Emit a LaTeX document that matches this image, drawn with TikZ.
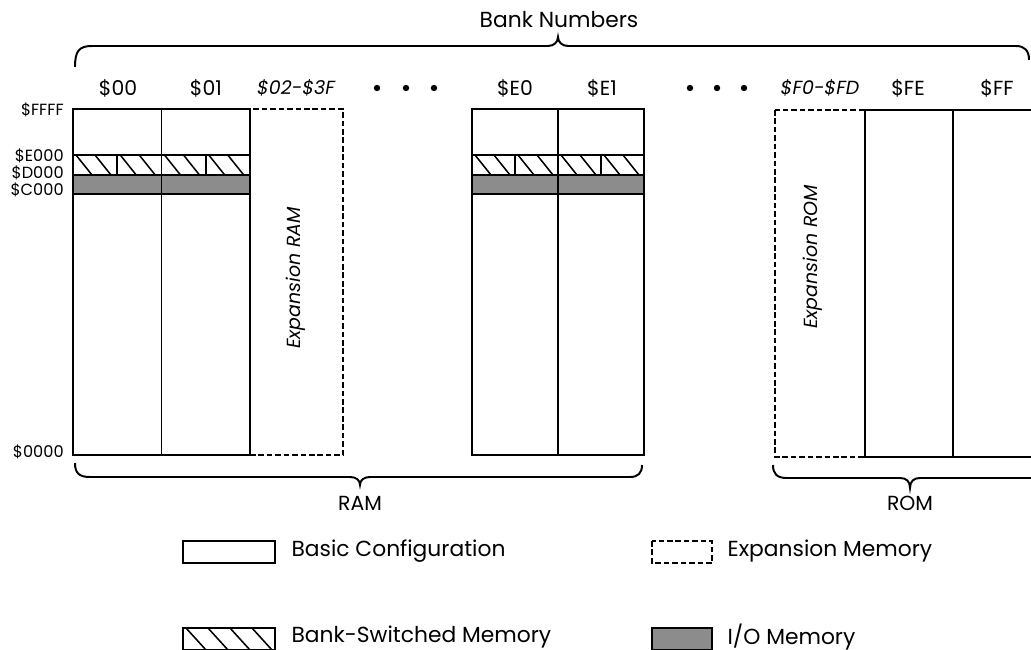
\documentclass[tikz,border=0pt]{standalone}
\usepackage{fontspec}
\setmainfont{Poppins}
\usetikzlibrary{positioning, calc}

\tikzset{
  bankbox/.style={draw, line width=1.3pt},
  expbox/.style={draw, line width=1.3pt, dash pattern=on 4pt off 2pt},
  brace/.style={draw, line width=1.4pt},
  banklab/.style={font=\fontsize{14.5}{16}\selectfont},
  explab/.style={font=\itshape\fontsize{13.5}{15}\selectfont},
  addrlab/.style={anchor=east, inner sep=1pt, font=\fontsize{11.5}{12}\selectfont},
  legtext/.style={anchor=west, font=\fontsize{15.5}{17}\selectfont},
  iofill/.style={fill=black!45},
}

\begin{document}
\begin{tikzpicture}[x=0.025cm, y=-0.025cm, line width=1.3pt]
    \useasboundingbox (0,0) rectangle (1031,650);

    % address labels
    \node[addrlab] (aFFFF) at (66,110) {\$FFFF};
    \node[addrlab] (aE000) at (66,156) {\$E000};
    \node[addrlab] (aD000) at (66,173) {\$D000};
    \node[addrlab] (aC000) at (66,190) {\$C000};
    \node[addrlab] (a0000) at (66,452) {\$0000};

    % bank numbers
    \node[banklab] (b00) at (118,88) {\$00};
    \node[banklab] (b01) at (206,88) {\$01};
    \node[explab]  (b02) at (296,88) {\$02-\$3F};
    \node[banklab] (bE0) at (515,88) {\$E0};
    \node[banklab] (bE1) at (602,88) {\$E1};
    \node[explab]  (bF0) at (820,88) {\$F0-\$FD};
    \node[banklab] (bFE) at (908,88) {\$FE};
    \node[banklab] (bFF) at (997,88) {\$FF};
    \foreach \x in {377,406,434,690,717,744}
        \fill (\x,88) circle (3.2);

    % expansion banks
    \draw[expbox] (250,109) rectangle (343,455);
    \draw[expbox] (775,110) rectangle (865,457);
    \node[explab, rotate=90] (expram) at (296,278) {Expansion RAM};
    \node[explab, rotate=90] (exprom) at (813,257) {Expansion ROM};

    % RAM banks $00-$01 and $E0-$E1
    \foreach \xa/\xb in {73/250, 472/644} {
        \pgfmathsetmacro{\cw}{(\xb-\xa)/4}
        \fill[iofill] (\xa,175) rectangle (\xb,194);
        \begin{scope}
            \clip (\xa,155) rectangle (\xb,175);
            \foreach \i in {0,...,3} {
                \draw[line width=1.1pt] ({\xa+\i*\cw},155) -- ({\xa+\i*\cw},175);
                \foreach \d in {3,22}
                    \draw[line width=1.1pt] ({\xa+\i*\cw+\d},155) -- ({\xa+\i*\cw+\d+16},175);
            }
        \end{scope}
        \draw[bankbox] (\xa,109) rectangle (\xb,455);
        \draw[bankbox] ({(\xa+\xb)/2},109) -- ({(\xa+\xb)/2},455);
        \draw[bankbox] (\xa,155) -- (\xb,155);
        \draw[bankbox] (\xa,175) -- (\xb,175);
        \draw[bankbox] (\xa,194) -- (\xb,194);
    }

    % ROM banks $FE-$FF
    \draw[bankbox] (1032,110) -- (865,110) -- (865,457) -- (1032,457);
    \draw[bankbox] (953,110) -- (953,457);

    % braces
    \draw[brace] (75,67) .. controls (75,51) and (79,46) .. (92,46) -- (548,46)
        .. controls (554,46) and (558,42) .. (558,37) .. controls (558,42) and (562,46) .. (568,46)
        -- (1016,46) .. controls (1025,46) and (1029,51) .. (1029,60);
    \node[font=\fontsize{15.5}{17}\selectfont] (banknum) at (559,20) {Bank Numbers};

    \draw[brace] (75,463) .. controls (75,473) and (79,477) .. (90,477) -- (350,477)
        .. controls (356,477) and (360,480) .. (360,485) .. controls (360,480) and (364,477) .. (370,477)
        -- (630,477) .. controls (638,477) and (642,473) .. (642,465);
    \node[banklab] (ram) at (360,503) {RAM};

    \draw[brace] (773,465) .. controls (773,474) and (777,478) .. (787,478) -- (900,478)
        .. controls (906,478) and (910,481) .. (910,488) .. controls (910,481) and (914,478) .. (920,478)
        -- (1032,478);
    \node[banklab] (rom) at (910,503) {ROM};

    % legend
    \draw[bankbox] (183,541) rectangle (275,563);
    \node[legtext] (lbasic) at (286,551) {Basic Configuration};
    \draw[expbox] (652,541) rectangle (712,563);
    \node[legtext] (lexp) at (722,551) {Expansion Memory};

    \begin{scope}
        \clip (183,628) rectangle (275,650);
        \foreach \x in {186,208,230,252}
            \draw[line width=1.1pt] (\x,628) -- (\x+20,650);
    \end{scope}
    \draw[bankbox] (183,628) rectangle (275,650);
    \node[legtext] (lbank) at (286,637) {Bank-Switched Memory};
    \draw[bankbox, iofill] (652,628) rectangle (712,650);
    \node[legtext] (lio) at (722,637) {I/O Memory};
\end{tikzpicture}
\end{document}
